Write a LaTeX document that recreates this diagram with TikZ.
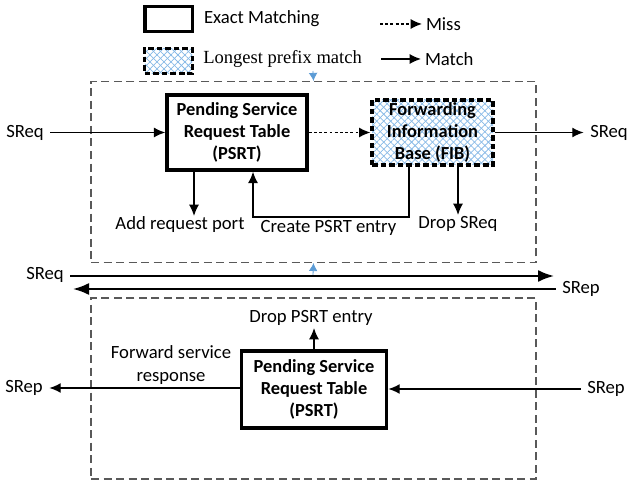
\documentclass[tikz,border=0pt]{standalone}
\usepackage{fontspec}
\setmainfont{Carlito}
\newfontfamily\legendfont{Liberation Serif}
\usetikzlibrary{arrows.meta,patterns.meta}
\definecolor{hatch}{RGB}{135,185,230}
\definecolor{tickblue}{RGB}{91,155,213}
\tikzset{
  px/.style={x=0.75pt,y=-0.75pt},
  boxtext/.style={align=center,font=\fontsize{13.8}{16.6}\selectfont\bfseries},
  exactbox/.style={draw=black,line width=2.6pt,fill=white,inner sep=0pt,boxtext},
  lpmbox/.style={draw=black,line width=2.4pt,dash pattern=on 4.2pt off 2.2pt,inner sep=0pt,boxtext,
    preaction={pattern={Lines[angle=45,distance=3.7pt,line width=.55pt]},pattern color=hatch},
    preaction={pattern={Lines[angle=-45,distance=3.7pt,line width=.55pt]},pattern color=hatch}},
  region/.style={draw=black!65,line width=.85pt,dash pattern=on 6pt off 3.4pt,inner sep=0pt},
  lab/.style={inner sep=0pt,outer sep=5pt,font=\fontsize{14}{17}\selectfont,align=center},
  legend/.style={inner sep=0pt,anchor=west,font=\legendfont\fontsize{13.9}{16}\selectfont},
  legendc/.style={inner sep=0pt,outer sep=3pt,anchor=west,font=\fontsize{14}{17}\selectfont},
  flow/.style={draw=black,line width=1pt,-{Latex[length=8.5pt,width=7.5pt]}},
  flowthick/.style={draw=black,line width=1.5pt,-{Latex[length=12pt,width=9pt]}},
  miss/.style={flow,dash pattern=on 2.2pt off 1.7pt},
  tick/.style={draw=tickblue,line width=.6pt,-{Latex[length=6pt,width=6.5pt]}},
}
\begin{document}
\begin{tikzpicture}[px]
\useasboundingbox (0,0) rectangle (627,484);
% legend
\node[exactbox,minimum width=35.6pt,minimum height=18.7pt] (legE) at (168.5,19) {};
\node[legendc] (legEt) at (200,19) {Exact Matching};
\node[lpmbox,minimum width=35.6pt,minimum height=18.7pt] (legL) at (168.5,61) {};
\node[legend] (legLt) at (203,59) {Longest prefix match};
\node[legendc] (missT) at (422,24) {Miss};
\coordinate (missA) at (380,24);
\draw[miss] (missA) -- (missT);
\node[legendc] (matchT) at (421,59) {Match};
\coordinate (matchA) at (381,59);
\draw[flow] (matchA) -- (matchT);
% regions
\node[region,minimum width=333.75pt,minimum height=135.75pt] (topR) at (313.5,172) {};
\node[region,minimum width=333.75pt,minimum height=135.75pt] (botR) at (313.5,388.5) {};
\coordinate (tickA) at (313,71);
\coordinate (tickB) at (313,275);
\draw[tick] (tickA) -- (topR.north);
\draw[tick] (tickB) -- (topR.south);
% top boxes
\node[exactbox,minimum width=105pt,minimum height=56.25pt] (psrt) at (237,132.5) {Pending Service\\Request Table\\(PSRT)};
\node[lpmbox,minimum width=90.75pt,minimum height=48.75pt] (fib) at (432.5,132.5) {Forwarding\\Information\\Base (FIB)};
% top flows
\node[lab] (sreqL) at (25,132.5) {SReq};
\draw[flow] (sreqL) -- (psrt.west);
\draw[miss] (psrt.east) -- (fib.west);
\node[lab] (sreqR) at (609,132.5) {SReq};
\draw[flow] (fib.east) -- (sreqR);
\node[lab] (addp) at (180,225) {Add request port};
\coordinate (addX) at (194,216);
\draw[flow] (addX |- psrt.south) -- (addX);
\node[lab] (create) at (328.5,228) {Create PSRT entry};
\coordinate (cR) at (409,217);
\coordinate (cL) at (253,217);
\draw[flow] (cR |- fib.south) -- (cR) -- (cL) -- (cL |- psrt.south);
\node[lab] (drops) at (458,224) {Drop SReq};
\coordinate (dX) at (458,215);
\draw[flow] (dX |- fib.south) -- (dX);
% middle links
\node[lab] (mReq) at (45,275) {SReq};
\node[lab] (mRep) at (581,289) {SRep};
\draw[flowthick] (mReq.east |- 0,276) -- (554,276);
\draw[flowthick] (mRep.west) -- (73,289);
% bottom
\node[exactbox,minimum width=109pt,minimum height=58pt] (psrtb) at (314,389.5) {Pending Service\\Request Table\\(PSRT)};
\node[lab] (dropp) at (311,318) {Drop PSRT entry};
\coordinate (upX) at (314,328);
\draw[flow] (upX |- psrtb.north) -- (upX);
\node[lab] (fwd) at (171,365) {Forward service\\response};
\node[lab] (repL) at (24,388) {SRep};
\node[lab] (repR) at (606,389) {SRep};
\draw[flow] (psrtb.west |- repL) -- (repL);
\draw[flow] (repR) -- (psrtb.east |- repR);
\end{tikzpicture}
\end{document}
